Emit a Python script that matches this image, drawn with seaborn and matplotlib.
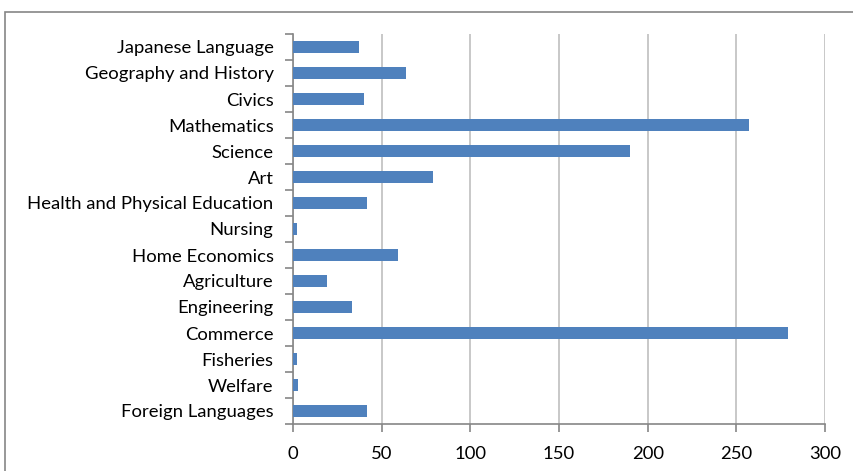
import matplotlib
matplotlib.use('Agg')
import matplotlib.pyplot as plt
import seaborn as sns
import pandas as pd
from matplotlib.patches import Rectangle
from matplotlib.ticker import FixedLocator

#=====DATA=====
subjects = ["Japanese Language", "Geography and History", "Civics", "Mathematics",
            "Science", "Art", "Health and Physical Education", "Nursing",
            "Home Economics", "Agriculture", "Engineering", "Commerce",
            "Fisheries", "Welfare", "Foreign Languages"]
counts = [37, 64, 40, 257, 190, 79, 42, 2, 59, 19, 33, 279, 2, 3, 42]
x_ticks = [0, 50, 100, 150, 200, 250, 300]

df = pd.DataFrame({"Subject": subjects, "Count": counts})

#=====STYLE=====
sns.set_theme(style="white")
plt.rcParams['font.family'] = ['Lato', 'DejaVu Sans']

fig = plt.figure(figsize=(8.54, 4.71), dpi=100)
ax = fig.add_axes([293 / 854, 1 - 424 / 471, 532 / 854, 390 / 471])

sns.barplot(data=df, x="Count", y="Subject", color="#4F81BD", width=0.45,
            saturation=1, linewidth=0, ax=ax, zorder=3)

ax.set_xlim(0, 300)
ax.set_ylim(len(subjects) - 0.5, -0.5)
ax.set_xticks(x_ticks)
ax.set_xlabel("")
ax.set_ylabel("")
ax.xaxis.grid(True, color="#BFBFBF", linewidth=1.2, zorder=0)
ax.yaxis.grid(False)
ax.set_axisbelow(True)

for s in ["top", "right"]:
    ax.spines[s].set_visible(False)
for s in ["left", "bottom"]:
    ax.spines[s].set_color("#868686")
    ax.spines[s].set_linewidth(1.2)

# category ticks between bars (Excel style)
ax.yaxis.set_minor_locator(FixedLocator([i - 0.5 for i in range(len(subjects) + 1)]))
ax.tick_params(axis="y", which="major", length=0, pad=14, labelsize=13.3, labelcolor="black")
ax.tick_params(axis="y", which="minor", left=True, length=6, width=1.2, color="#868686")
ax.tick_params(axis="x", which="major", bottom=True, length=6, width=1.2, color="#868686",
               pad=10, labelsize=13.3, labelcolor="black")

# outer chart border
fig.patches.append(Rectangle((5 / 854, -0.05), 1.1, 1 - 12 / 471 + 0.05, transform=fig.transFigure,
                             fill=False, edgecolor="#868686", linewidth=1.2))

fig.savefig("out.png", dpi=100)
